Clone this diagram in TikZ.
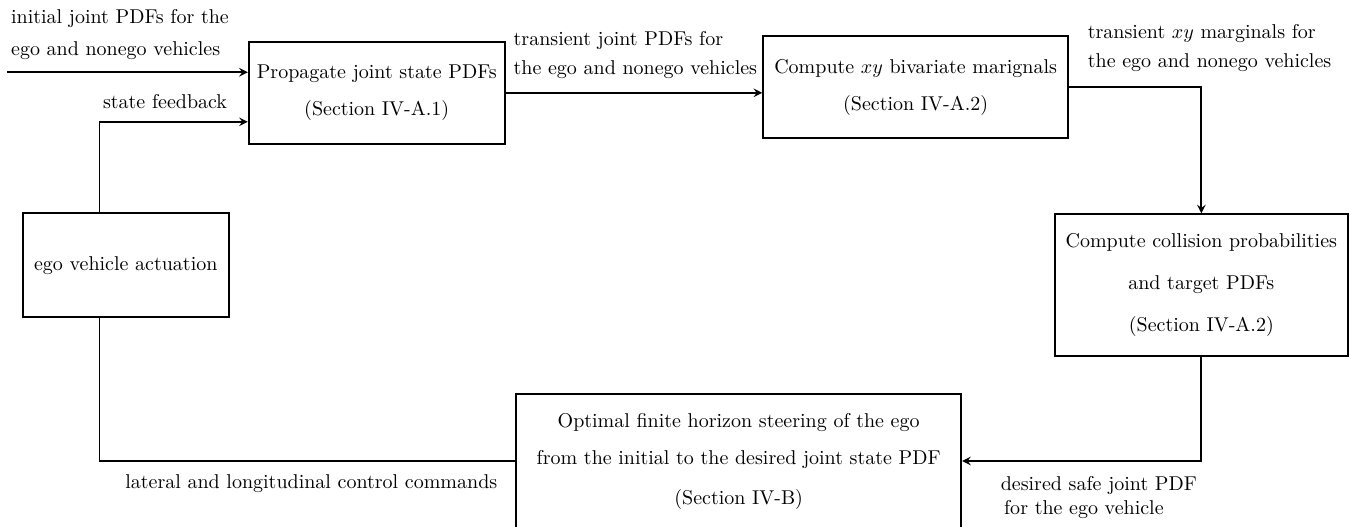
\documentclass[tikz,border=0pt]{standalone}
\usetikzlibrary{positioning}
\begin{document}
\begin{tikzpicture}[>=stealth, line width=0.9pt,
  blk/.style={draw, align=center, inner sep=0pt},
  lbl/.style={align=left, inner sep=0pt}]
\useasboundingbox (0,0) rectangle (23.74,9.26);
% blocks
\node[blk, minimum width=4.50cm, minimum height=1.79cm] (prop) at (6.62,7.63) {Propagate joint state PDFs\\[6.5pt] (Section IV-A.1)};
\node[blk, minimum width=5.36cm, minimum height=1.79cm] (marg) at (16.09,7.73) {Compute $xy$ bivariate marignals\\[6.5pt] (Section IV-A.2)};
\node[blk, minimum width=5.15cm, minimum height=2.49cm] (coll) at (21.11,4.25) {Compute collision probabilities\\[9pt] and target PDFs\\[9pt] (Section IV-A.2)};
\node[blk, minimum width=3.62cm, minimum height=1.83cm] (ego) at (2.21,4.60) {ego vehicle actuation};
\node[blk, minimum width=7.82cm, minimum height=2.35cm] (opt) at (12.98,1.16) {Optimal finite horizon steering of the ego\\[6.5pt] from the initial to the desired joint state PDF\\[8pt] (Section IV-B)};
% connectors
\coordinate (in) at (0.12,7.99);
\draw[->] (in) -- (in -| prop.west);
\draw[->] ([xshift=-0.46cm]ego.north) |- ([yshift=-0.51cm]prop.west);
\draw[->] (prop.east) -- (prop.east -| marg.west);
\draw[->] (marg.east) -| (coll.north);
\draw[->] (coll.south) |- (opt.east);
\draw (opt.west) -| ([xshift=-0.46cm]ego.south);
% labels
\node[lbl, anchor=west] (inlbl) at (0.18,8.66) {initial joint PDFs for the\\[4pt] ego and nonego vehicles};
\node[inner sep=0pt] (fblbl) at (2.90,7.47) {state feedback};
\node[lbl, anchor=west] (tjlbl) at (9.01,8.30) {transient joint PDFs for\\[2.5pt] the ego and nonego vehicles};
\node[lbl, anchor=west] (xylbl) at (19.10,8.42) {transient $xy$ marginals for\\[2.5pt] the ego and nonego vehicles};
\node[lbl, anchor=west] (dslbl) at (17.57,0.52) {desired safe joint PDF\\ \,for the ego vehicle};
\node[inner sep=0pt] (cclbl) at (5.47,0.77) {lateral and longitudinal control commands};
\end{tikzpicture}
\end{document}
